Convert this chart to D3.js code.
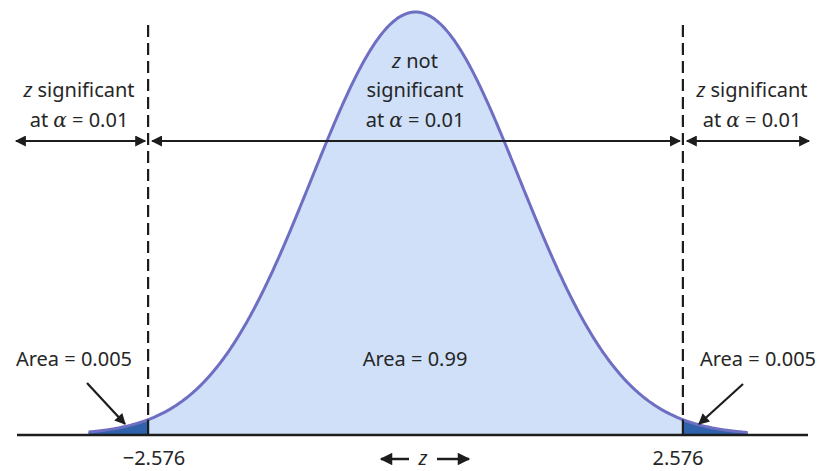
<!DOCTYPE html>
<html>
<head>
<meta charset="utf-8">
<script src="https://cdn.jsdelivr.net/npm/d3@7"></script>
<style>
  body { margin: 0; background: #fff; }
  svg { display: block; }
</style>
</head>
<body>
<svg width="822" height="471"></svg>
<script>
// critical values for a two-tailed test at alpha = 0.01
const criticalZ = [-2.576, 2.576];
const tickLabels = ["\u22122.576", "2.576"];
const areaLabels = ["Area = 0.005", "Area = 0.99", "Area = 0.005"];
const curveExtent = [-3.15, 3.2];

const width = 822;
const height = 471;

const svg = d3.select("svg")
    .attr("viewBox", `0 0 ${width} ${height}`)
    .style("font-family", "'Noto Sans', sans-serif");

const pdf = z => Math.exp(-z * z / 2) / Math.sqrt(2 * Math.PI);

const x = d3.scaleLinear().domain([-4, 4]).range([415.5 - 4 * 103.8, 415.5 + 4 * 103.8]);
const y = d3.scaleLinear().domain([0, pdf(0)]).range([435, 12]);

const step = 0.01;
const curvePts = d3.range(curveExtent[0], curveExtent[1] + step / 2, step);

const area = d3.area()
    .x(d => x(d))
    .y0(y(0))
    .y1(d => y(pdf(d)))
    .curve(d3.curveBasis);

const line = d3.line()
    .x(d => x(d))
    .y(d => y(pdf(d)))
    .curve(d3.curveBasis);

// fills
svg.append("path")
    .attr("d", area(curvePts))
    .attr("fill", "#cfe0f8");

svg.append("path")
    .attr("d", area(curvePts.filter(d => d <= criticalZ[0]).concat([criticalZ[0]])))
    .attr("fill", "#2f62ab");

svg.append("path")
    .attr("d", area([criticalZ[1]].concat(curvePts.filter(d => d >= criticalZ[1]))))
    .attr("fill", "#2f62ab");

svg.append("path")
    .attr("d", line(curvePts))
    .attr("fill", "none")
    .attr("stroke", "#6e6ec2")
    .attr("stroke-width", 3);

// baseline
svg.append("line")
    .attr("x1", 17).attr("x2", 808)
    .attr("y1", y(0)).attr("y2", y(0))
    .attr("stroke", "#1d1d1d")
    .attr("stroke-width", 2.5);

// critical lines
criticalZ.forEach(c => {
    svg.append("line")
        .attr("x1", x(c)).attr("x2", x(c))
        .attr("y1", 25).attr("y2", y(pdf(c)))
        .attr("stroke", "#1d1d1d")
        .attr("stroke-width", 2.2)
        .attr("stroke-dasharray", "12,6");
    svg.append("line")
        .attr("x1", x(c)).attr("x2", x(c))
        .attr("y1", y(pdf(c))).attr("y2", y(0))
        .attr("stroke", "#1d1d1d")
        .attr("stroke-width", 2.2);
});

// arrowhead marker
const defs = svg.append("defs");
defs.append("marker")
    .attr("id", "head")
    .attr("viewBox", "0 0 10 10")
    .attr("refX", 9).attr("refY", 5)
    .attr("markerWidth", 5.5).attr("markerHeight", 5)
    .attr("markerUnits", "strokeWidth")
    .attr("orient", "auto-start-reverse")
    .append("path")
    .attr("d", "M0,0 L10,5 L0,10 Z")
    .attr("fill", "#1d1d1d");

const arrowY = 141;
const spans = [
    [16, x(criticalZ[0]) - 3],
    [x(criticalZ[0]) + 4, x(criticalZ[1]) - 3],
    [x(criticalZ[1]) + 4, 809]
];
spans.forEach(s => {
    svg.append("line")
        .attr("x1", s[0]).attr("x2", s[1])
        .attr("y1", arrowY).attr("y2", arrowY)
        .attr("stroke", "#1d1d1d")
        .attr("stroke-width", 2.2)
        .attr("marker-start", "url(#head)")
        .attr("marker-end", "url(#head)");
});

// labels
const fs = 20;
function label(cx, yb, parts, size) {
    const t = svg.append("text")
        .attr("x", cx).attr("y", yb)
        .attr("text-anchor", "middle")
        .attr("font-size", size || fs)
        .attr("fill", "#262626");
    parts.forEach(p => {
        t.append("tspan")
            .attr("font-style", p.i ? "italic" : null)
            .attr("font-family", p.g ? "'DejaVu Serif', serif" : null)
            .text(p.t);
    });
}

const sigLines = (cx, y1) => {
    label(cx, y1, [{ t: "z", i: true }, { t: " significant" }]);
    label(cx, y1 + 30, [{ t: "at " }, { t: "\u03b1", i: true, g: true }, { t: " = 0.01" }]);
};
sigLines(79, 97);
sigLines(752, 97);
label(415, 68, [{ t: "z", i: true }, { t: " not" }]);
label(415, 97, [{ t: "significant" }]);
label(415, 127, [{ t: "at " }, { t: "\u03b1", i: true, g: true }, { t: " = 0.01" }]);

label(74, 366, [{ t: areaLabels[0] }]);
label(415, 366, [{ t: areaLabels[1] }]);
label(758, 366, [{ t: areaLabels[2] }]);

// tail pointers
[[87, 383, 125, 424], [743, 384, 699, 424]].forEach(a => {
    svg.append("line")
        .attr("x1", a[0]).attr("y1", a[1])
        .attr("x2", a[2]).attr("y2", a[3])
        .attr("stroke", "#1d1d1d")
        .attr("stroke-width", 2.2)
        .attr("marker-end", "url(#head)");
});

// tick labels
label(154, 465, [{ t: tickLabels[0] }]);
label(678, 465, [{ t: tickLabels[1] }]);

// z direction
label(423, 465, [{ t: "z", i: true }]);
[[409, 381], [437, 469]].forEach(a => {
    svg.append("line")
        .attr("x1", a[0]).attr("x2", a[1])
        .attr("y1", 459).attr("y2", 459)
        .attr("stroke", "#1d1d1d")
        .attr("stroke-width", 2.5)
        .attr("marker-end", "url(#head)");
});
</script>
</body>
</html>
